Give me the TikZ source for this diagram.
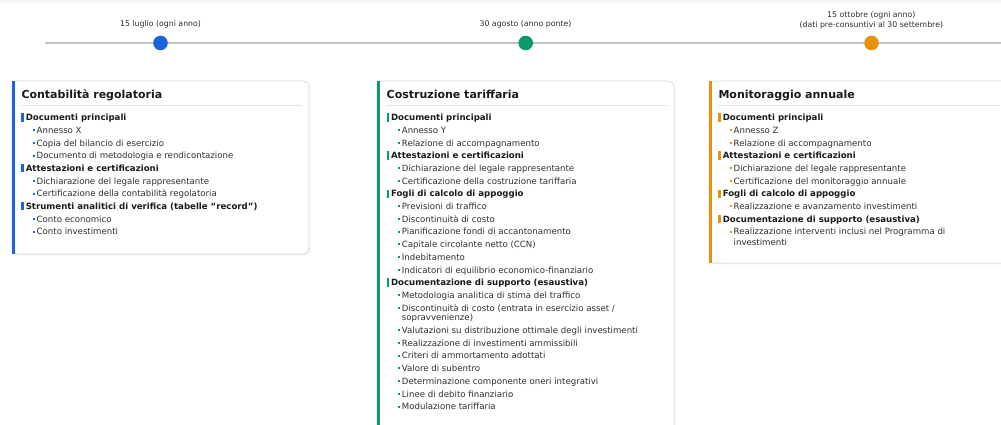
\documentclass[tikz,border=0pt]{standalone}
\usepackage{fontspec}
\setmainfont{DejaVu Sans}
\usetikzlibrary{shadows}

\definecolor{bluA}{HTML}{1A64DB}
\definecolor{grnA}{HTML}{0B9A6A}
\definecolor{orgA}{HTML}{E8920B}
\definecolor{lineG}{HTML}{C2C2C2}
\definecolor{brdG}{HTML}{DCDCDC}
\definecolor{txtD}{HTML}{1A1A1A}
\definecolor{txtM}{HTML}{2E2E2E}

\newcommand{\grp}[2]{{\color{#1}\rule[-0.9pt]{2.2pt}{8.2pt}}\hspace{2.3pt}{\bfseries\color{txtD}#2}}
\newcommand{\itm}[2]{\hspace*{11.4pt}{\color{#1}\rule[2.2pt]{2pt}{2pt}}\hspace{2pt}#2}

\begin{document}
\begin{tikzpicture}[x=1pt, y=-1pt,
        tline/.style={draw=lineG, line width=2.6pt},
        tdot/.style={circle, fill=#1, minimum size=14.6pt, inner sep=0pt},
        date/.style={font=\fontsize{7.8}{9.5}\selectfont, text=txtM, inner sep=0pt, align=center},
        card/.style={fill=white, draw=brdG, line width=0.8pt, rounded corners=6pt,
            drop shadow={shadow xshift=0.8pt, shadow yshift=-1.4pt, opacity=0.14}},
        title/.style={font=\fontsize{11}{13}\selectfont\bfseries, text=txtD, inner sep=0pt, anchor=base west},
        rulesep/.style={draw=brdG!80, line width=0.6pt},
        body/.style={font=\fontsize{8.6}{12.7}\selectfont, text=txtM, align=left, inner sep=0pt, anchor=north west}]
        \useasboundingbox (0,0) rectangle (1001,425);
        \fill[gray!6] (0,0) rectangle (1001,3);

        % timeline
        \coordinate (tl0) at (45,43);
        \coordinate (tl1) at (1001,43);
        \draw[tline] (tl0) -- (tl1);

        \node[tdot=bluA] (m1) at (160.5,43) {};
        \node[tdot=grnA] (m2) at (525.7,43) {};
        \node[tdot=orgA] (m3) at (871.5,43) {};

        \node[date, anchor=base] (d1) at (160.5,26.5) {15 luglio (ogni anno)};
        \node[date, anchor=base] (d2) at (525.5,26.5) {30 agosto (anno ponte)};
        \node[date, anchor=north] (d3) at (871.3,11.4) {15 ottobre (ogni anno)\\(dati pre-consuntivi al 30 settembre)};

        % card 1
        \draw[card] (12,81) rectangle (309,254);
        \fill[bluA] (12,81) rectangle (15,254);
        \node[title] (t1) at (21.3,98.7) {Contabilità regolatoria};
        \draw[rulesep] (21,105.3) -- (302,105.3);
        \node[body] (b1) at (21.1,113.1) {%
            \grp{bluA}{Documenti principali}\\
            \itm{bluA}{Annesso X}\\
            \itm{bluA}{Copia del bilancio di esercizio}\\
            \itm{bluA}{Documento di metodologia e rendicontazione}\\
            \grp{bluA}{Attestazioni e certificazioni}\\
            \itm{bluA}{Dichiarazione del legale rappresentante}\\
            \itm{bluA}{Certificazione della contabilità regolatoria}\\
            \grp{bluA}{Strumenti analitici di verifica (tabelle “record”)}\\
            \itm{bluA}{Conto economico}\\
            \itm{bluA}{Conto investimenti}};

        % card 2
        \draw[card] (377,81) rectangle (674,440);
        \fill[grnA] (377,81) rectangle (380,440);
        \node[title] (t2) at (386.5,98.7) {Costruzione tariffaria};
        \draw[rulesep] (386,105.3) -- (667,105.3);
        \node[body] (b2) at (386.3,113.1) {%
            \grp{grnA}{Documenti principali}\\
            \itm{grnA}{Annesso Y}\\
            \itm{grnA}{Relazione di accompagnamento}\\
            \grp{grnA}{Attestazioni e certificazioni}\\
            \itm{grnA}{Dichiarazione del legale rappresentante}\\
            \itm{grnA}{Certificazione della costruzione tariffaria}\\
            \grp{grnA}{Fogli di calcolo di appoggio}\\
            \itm{grnA}{Previsioni di traffico}\\
            \itm{grnA}{Discontinuità di costo}\\
            \itm{grnA}{Pianificazione fondi di accantonamento}\\
            \itm{grnA}{Capitale circolante netto (CCN)}\\
            \itm{grnA}{Indebitamento}\\
            \itm{grnA}{Indicatori di equilibrio economico-finanziario}\\
            \grp{grnA}{Documentazione di supporto (esaustiva)}\\
            \itm{grnA}{Metodologia analitica di stima del traffico}\\
            \itm{grnA}{Discontinuità di costo (entrata in esercizio asset /}\\[-3pt]
            \hspace*{15.4pt}sopravvenienze)\\
            \itm{grnA}{Valutazioni su distribuzione ottimale degli investimenti}\\
            \itm{grnA}{Realizzazione di investimenti ammissibili}\\
            \itm{grnA}{Criteri di ammortamento adottati}\\
            \itm{grnA}{Valore di subentro}\\
            \itm{grnA}{Determinazione componente oneri integrativi}\\
            \itm{grnA}{Linee di debito finanziario}\\
            \itm{grnA}{Modulazione tariffaria}};

        % card 3
        \draw[card] (709,81) rectangle (1012,263);
        \fill[orgA] (709,81) rectangle (712,263);
        \node[title] (t3) at (718.3,98.7) {Monitoraggio annuale};
        \draw[rulesep] (718,105.3) -- (999,105.3);
        \node[body] (b3) at (718.1,113.1) {%
            \grp{orgA}{Documenti principali}\\
            \itm{orgA}{Annesso Z}\\
            \itm{orgA}{Relazione di accompagnamento}\\
            \grp{orgA}{Attestazioni e certificazioni}\\
            \itm{orgA}{Dichiarazione del legale rappresentante}\\
            \itm{orgA}{Certificazione del monitoraggio annuale}\\
            \grp{orgA}{Fogli di calcolo di appoggio}\\
            \itm{orgA}{Realizzazione e avanzamento investimenti}\\
            \grp{orgA}{Documentazione di supporto (esaustiva)}\\
            \itm{orgA}{Realizzazione interventi inclusi nel Programma di}\\[-2.3pt]
            \hspace*{15.4pt}investimenti};
    \end{tikzpicture}
\end{document}
